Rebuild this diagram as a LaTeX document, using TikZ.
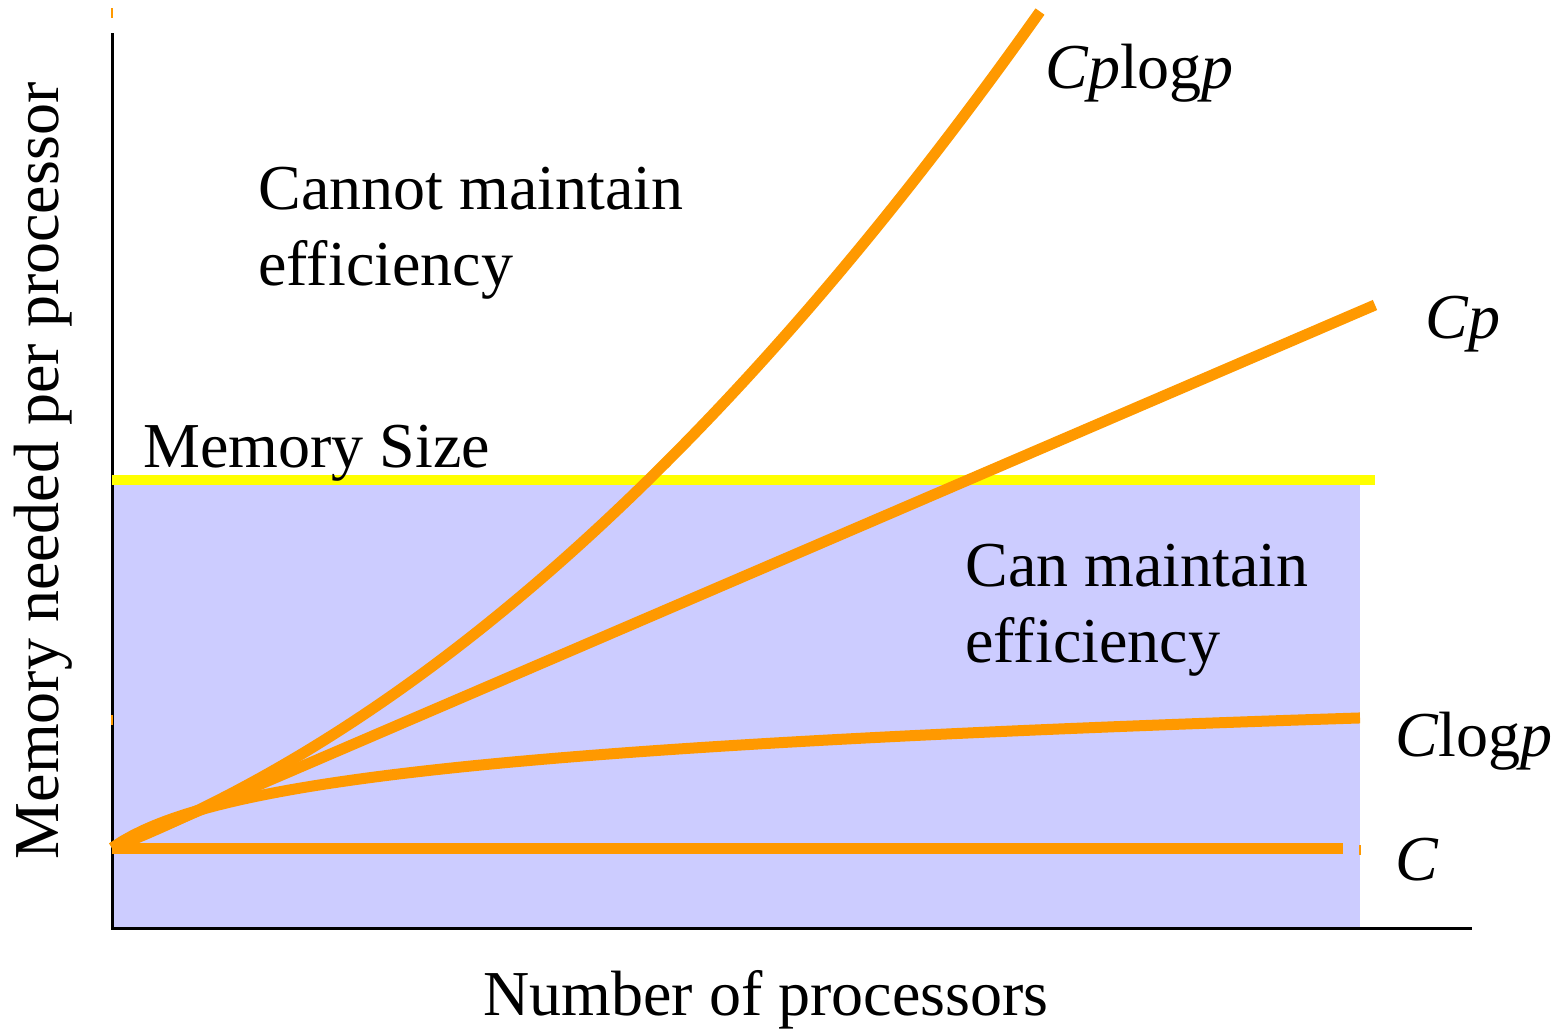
\documentclass[tikz,border=0pt]{standalone}
\usepackage{fontspec}
\setmainfont{Liberation Serif}
\usepackage{tikz}
\usetikzlibrary{positioning,calc}
\definecolor{memorange}{HTML}{FF9900}
\definecolor{memfill}{HTML}{CCCCFF}
\definecolor{memyellow}{HTML}{FFFF00}

\tikzset{
    curve/.style={memorange,line width=5.5pt},
    label/.style={inner sep=0pt,font=\fontsize{32}{38}\selectfont,align=left},
}

\begin{document}
\begin{tikzpicture}[x=0.5pt,y=-0.5pt]
    \useasboundingbox (0,0) rectangle (1564,1029);
    \fill[memfill] (112,480) rectangle (1360,928);
    \draw[black,line width=1.5pt] (112,33) -- (112,928) -- (1472,928);
    \draw[memyellow,line width=5pt] (112,480) -- (1375,480);
    \coordinate (origin) at (112,848);
    \foreach \x/\y in {112/13,112/720,1360/850}
        \draw[memorange,line width=1pt] (\x,\y-5) -- (\x,\y+5);
    \draw[curve] (origin) -- (1343,848);
    \draw[curve] plot[domain=0:1248,samples=120] ({112+\x},{848-42.2*ln(1+\x/60)});
    \draw[curve] (origin) -- (1375,305);
    \draw[curve] plot[domain=0:928,samples=120] ({112+\x},{848-0.3916*\x-0.000545*\x*\x});
    \node[label,anchor=base west] (cannot) at (258,285) {Cannot maintain\\efficiency};
    \node[label,anchor=base west] (memsize) at (143,467) {Memory Size};
    \node[label,anchor=base west] (can) at (965,662) {Can maintain\\efficiency};
    \node[label,anchor=base west] (cplogp) at (1045,88) {\textit{Cp}log\textit{p}};
    \node[label,anchor=base west] (cp) at (1425,338) {\textit{Cp}};
    \node[label,anchor=base west] (clogp) at (1395,756) {\textit{C}log\textit{p}};
    \node[label,anchor=base west] (cconst) at (1395,880) {\textit{C}};
    \node[label,anchor=base] (xlabel) at (766,1015) {Number of processors};
    \node[label,anchor=base,rotate=90] (ylabel) at (58,471) {Memory needed per processor};
\end{tikzpicture}
\end{document}
